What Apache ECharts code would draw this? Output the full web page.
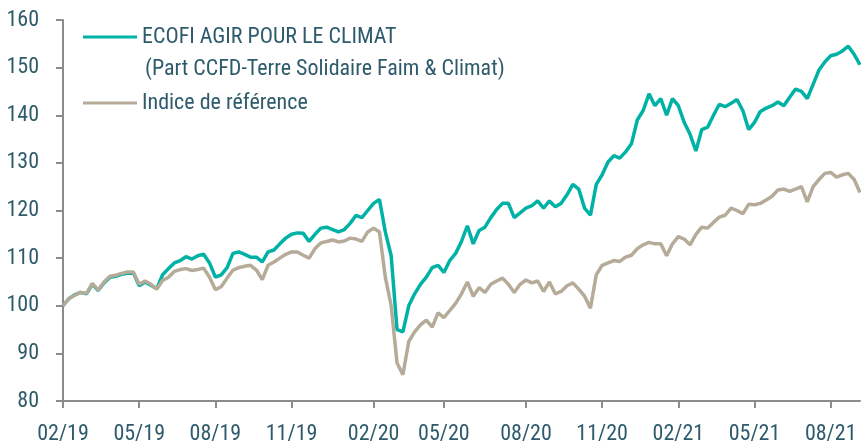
<!DOCTYPE html>
<html>
<head>
<meta charset="utf-8">
<script src="https://cdn.jsdelivr.net/npm/echarts@6/dist/echarts.min.js"></script>
<style>
html,body{margin:0;padding:0;background:#fff;}
#c{width:861px;height:446px;}
</style>
</head>
<body>
<div id="c"></div>
<script>
// Weekly observations (Fridays) starting 2019-02-01
var startDate = '2019-02-01';
var weekCount = 137;

var fundName = 'ECOFI AGIR POUR LE CLIMAT';
var fundSubName = '(Part CCFD-Terre Solidaire Faim & Climat)';
var benchName = 'Indice de référence';

var fundValues = [
100,101.5,102.3,102.8,102.5,104.5,103.2,104.8,106,106.2,
106.6,106.8,106.9,104.2,105,104.3,103.6,106.5,107.8,109,
109.5,110.3,109.8,110.5,110.8,109,106,106.5,108,111,
111.3,110.8,110.2,110.2,109.2,111.3,111.7,113,114.2,115,
115.3,115.2,113.5,115,116.3,116.5,116,115.5,116,117.3,
119,118.5,120,121.5,122.3,115.5,110.5,95,94.5,100,
102.5,104.5,106,108,108.5,107,109.5,111,113.5,116.8,
113,115.8,116.5,118.5,120.2,121.5,121.5,118.5,119.5,120.5,
121,122,120.5,122,120.8,121.5,123.3,125.5,124.5,120.5,
119,125.5,127.5,130.2,131.5,131,132.3,134,139,141,
144.5,142,143.5,140,143.5,142,138.5,136,132.5,137,
137.5,140,142.3,141.8,142.5,143.3,141,137,138.5,140.8,
141.5,142,142.8,142,143.8,145.5,145,143.5,146.5,149.5,
151.2,152.5,152.8,153.5,154.5,152.8,150.6
];

var benchValues = [
100,101.5,102.2,102.8,102.6,104.7,103.3,105,106.2,106.4,
106.8,107.1,107.1,104.5,105.2,104.5,103.5,105.3,106,107.2,
107.6,107.8,107.4,107.6,107.9,106,103.4,104,105.8,107.5,
108,108.3,108.5,107.5,105.5,108.5,109.2,110,110.8,111.3,
111.3,110.6,110,112,113.2,113.5,113.8,113.4,113.6,114.2,
114,113.5,115.5,116.3,115.5,106,100,88,85.5,92.5,
94.5,96,97,95.5,98.5,97.5,99,100.5,102.5,105,
102,103.8,102.8,104.5,105.2,105.8,104.5,102.8,104.5,105.4,
104.8,105.2,103,105,102.5,103,104.2,104.8,103.5,102,
99.5,106.5,108.5,109,109.5,109.3,110.2,110.6,112,112.8,
113.3,113,113,110.5,113,114.5,114,112.8,115,116.5,
116.3,117.5,118.6,119,120.5,120,119.3,121.3,121.2,121.5,
122.2,123,124.3,124.5,124,124.5,125,121.8,125,126.5,
127.8,128,127,127.5,127.8,126.5,123.8
];

var labelMonths = [2, 5, 8, 11];

function pad(n){return (n<10?'0':'')+n;}
var categories = [];
(function(){
  var d0 = new Date(startDate + 'T12:00:00Z');
  for (var i = 0; i < weekCount; i++) {
    var d = new Date(d0.getTime() + i*7*86400000);
    categories.push(d.getUTCFullYear() + '-' + pad(d.getUTCMonth()+1) + '-' + pad(d.getUTCDate()));
  }
})();

function isQuarterStart(idx, val) {
  var p = val.split('-');
  var m = +p[1], day = +p[2];
  return labelMonths.indexOf(m) >= 0 && day <= 7;
}

var fontFam = '"Roboto Condensed","Liberation Sans Narrow","DejaVu Sans Condensed","Arial Narrow",sans-serif';
var textColor = '#2e5b6b';
var axisColor = '#8c8c8c';
var teal = '#00b2a5';
var beige = '#b5ab98';
var fs = 22;

var chart = echarts.init(document.getElementById('c'), null, {renderer: 'canvas'});
chart.setOption({
  animation: false,
  backgroundColor: '#ffffff',
  grid: {left: 63, right: 1, top: 20, bottom: 45, containLabel: false},
  legend: {
    data: [fundName, benchName],
    orient: 'vertical',
    left: 78,
    top: 17,
    padding: 5,
    itemWidth: 54,
    itemHeight: 3,
    itemGap: 36,
    icon: 'rect',
    textStyle: {fontFamily: fontFam, fontSize: fs, color: textColor, lineHeight: 30}
  },
  graphic: [{
    type: 'text',
    left: 145,
    top: 58,
    style: {text: fundSubName, font: fs + 'px ' + fontFam, fill: textColor}
  }],
  xAxis: {
    type: 'category',
    data: categories,
    boundaryGap: false,
    axisLine: {lineStyle: {color: axisColor, width: 2}},
    axisTick: {show: true, length: 7, interval: isQuarterStart, lineStyle: {color: axisColor, width: 2}},
    axisLabel: {
      interval: isQuarterStart,
      margin: 22,
      fontFamily: fontFam, fontSize: fs, color: textColor,
      formatter: function(v){var p=v.split('-'); return p[1] + '/' + p[0].slice(2);}
    },
    splitLine: {show: false}
  },
  yAxis: {
    type: 'value',
    min: 80, max: 160, interval: 10,
    axisLine: {show: true, lineStyle: {color: axisColor, width: 2}},
    axisTick: {show: true, length: 7, lineStyle: {color: axisColor, width: 2}},
    axisLabel: {margin: 24, fontFamily: fontFam, fontSize: fs, color: textColor},
    splitLine: {show: false}
  },
  series: [
    {name: fundName, type: 'line', data: fundValues, showSymbol: false, symbol: 'none',
     lineStyle: {color: teal, width: 3.5}, itemStyle: {color: teal}, z: 2},
    {name: benchName, type: 'line', data: benchValues, showSymbol: false, symbol: 'none',
     lineStyle: {color: beige, width: 3.5}, itemStyle: {color: beige}, z: 3}
  ]
});
</script>
</body>
</html>
